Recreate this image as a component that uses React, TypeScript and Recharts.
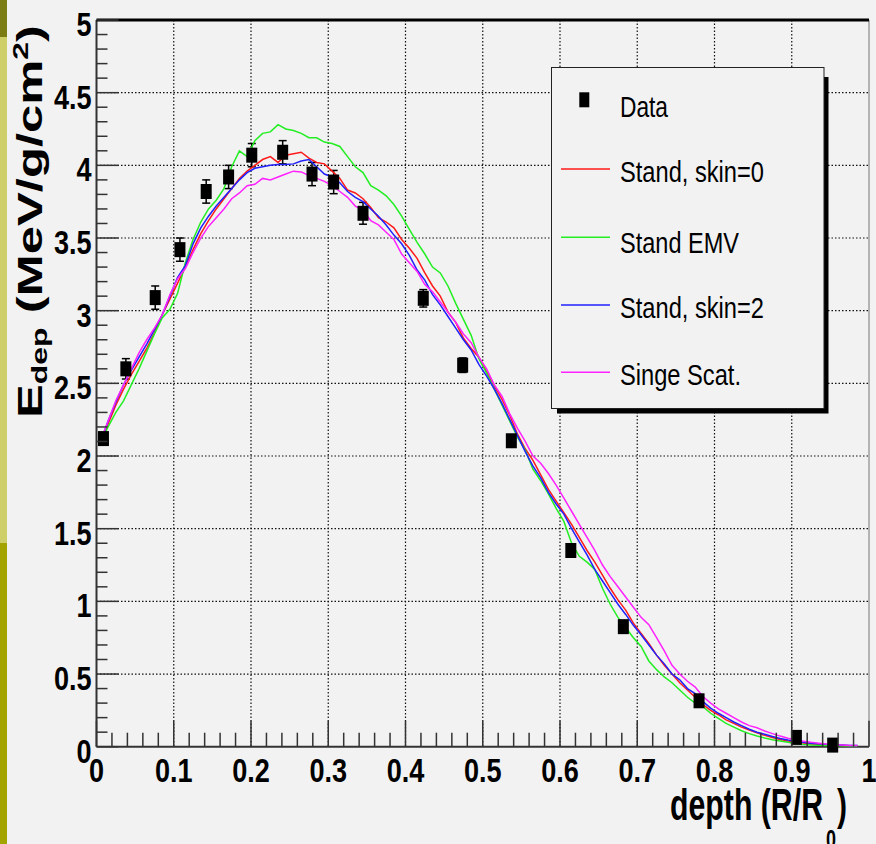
import React from 'react'
import {
  ComposedChart,
  Line,
  Scatter,
  ErrorBar,
  XAxis,
  YAxis,
  CartesianGrid,
  ReferenceLine,
  Legend,
} from 'recharts'

// bin centres of the simulated depth-dose curves
const DEPTH = [
  0.005, 0.015, 0.025, 0.035, 0.045, 0.055, 0.065, 0.075, 0.085, 0.095,
  0.105, 0.115, 0.125, 0.135, 0.145, 0.155, 0.165, 0.175, 0.185, 0.195,
  0.205, 0.215, 0.225, 0.235, 0.245, 0.255, 0.265, 0.275, 0.285, 0.295,
  0.305, 0.315, 0.325, 0.335, 0.345, 0.355, 0.365, 0.375, 0.385, 0.395,
  0.405, 0.415, 0.425, 0.435, 0.445, 0.455, 0.465, 0.475, 0.485, 0.495,
  0.505, 0.515, 0.525, 0.535, 0.545, 0.555, 0.565, 0.575, 0.585, 0.595,
  0.605, 0.615, 0.625, 0.635, 0.645, 0.655, 0.665, 0.675, 0.685, 0.695,
  0.705, 0.715, 0.725, 0.735, 0.745, 0.755, 0.765, 0.775, 0.785, 0.795,
  0.805, 0.815, 0.825, 0.835, 0.845, 0.855, 0.865, 0.875, 0.885, 0.895,
  0.905, 0.915, 0.925, 0.935, 0.945, 0.955, 0.965, 0.975, 0.985,
]

const STAND_SKIN0 = [
  2.09, 2.22, 2.35, 2.46, 2.56, 2.65, 2.74, 2.85, 2.97, 3.08,
  3.19, 3.3, 3.42, 3.53, 3.62, 3.7, 3.77, 3.84, 3.91, 3.96,
  4.0, 4.04, 4.06, 4.02, 4.07, 4.08, 4.09, 4.05, 4.02, 4.01,
  3.96, 3.91, 3.83, 3.81, 3.77, 3.71, 3.64, 3.61, 3.57, 3.49,
  3.43, 3.36, 3.26, 3.17, 3.1, 2.99, 2.92, 2.81, 2.74, 2.68,
  2.58, 2.48, 2.39, 2.28, 2.15, 2.05, 1.97, 1.87, 1.77, 1.69,
  1.61, 1.53, 1.44, 1.35, 1.27, 1.18, 1.09, 1.01, 0.94, 0.85,
  0.78, 0.71, 0.63, 0.56, 0.5, 0.44, 0.39, 0.34, 0.29, 0.25,
  0.22, 0.185, 0.16, 0.135, 0.115, 0.095, 0.078, 0.063, 0.05, 0.04,
  0.032, 0.025, 0.019, 0.016, 0.013, 0.011, 0.009, 0.007, 0.006,
]

const STAND_EMV = [
  2.09, 2.2, 2.3, 2.38, 2.49, 2.6, 2.72, 2.84, 2.95, 3.01,
  3.12, 3.33, 3.49, 3.61, 3.7, 3.76, 3.84, 3.99, 4.1, 4.06,
  4.17, 4.22, 4.23, 4.28, 4.25, 4.24, 4.22, 4.19, 4.19, 4.16,
  4.15, 4.13, 4.06, 3.99, 3.95, 3.86, 3.83, 3.79, 3.73, 3.65,
  3.56, 3.47, 3.39, 3.3, 3.26, 3.17, 3.05, 2.94, 2.83, 2.67,
  2.57, 2.46, 2.35, 2.24, 2.13, 2.04, 1.91, 1.83, 1.74, 1.64,
  1.55, 1.4, 1.31, 1.27, 1.22, 1.09, 0.98, 0.89, 0.82, 0.75,
  0.69, 0.59, 0.53, 0.48, 0.44, 0.39, 0.34, 0.3, 0.275, 0.23,
  0.195, 0.16, 0.135, 0.11, 0.09, 0.074, 0.06, 0.048, 0.039, 0.03,
  0.022, 0.016, 0.012, 0.01, 0.008, 0.007, 0.006, 0.005, 0.005,
]

const STAND_SKIN2 = [
  2.09, 2.24, 2.37, 2.49, 2.59, 2.68, 2.77, 2.87, 2.97, 3.1,
  3.23, 3.31, 3.46, 3.57, 3.65, 3.72, 3.78, 3.84, 3.9, 3.95,
  3.98, 3.99, 4.0, 4.005, 4.005, 4.01, 4.03, 4.04, 3.99, 3.94,
  3.92, 3.88, 3.82, 3.78, 3.75, 3.7, 3.65, 3.59, 3.52, 3.46,
  3.38, 3.28, 3.21, 3.11, 3.04, 2.96, 2.88, 2.8, 2.73, 2.63,
  2.55, 2.46, 2.36, 2.25, 2.14, 2.03, 1.93, 1.85, 1.75, 1.67,
  1.6, 1.5, 1.41, 1.32, 1.22, 1.14, 1.06, 0.98, 0.91, 0.835,
  0.77, 0.7, 0.63, 0.57, 0.5, 0.46, 0.4, 0.365, 0.31, 0.265,
  0.23, 0.2, 0.17, 0.145, 0.12, 0.1, 0.085, 0.07, 0.057, 0.046,
  0.037, 0.03, 0.024, 0.02, 0.016, 0.013, 0.011, 0.009, 0.008,
]

const SINGE_SCAT = [
  2.1, 2.24, 2.38, 2.49, 2.6, 2.71, 2.8, 2.88, 2.97, 3.11,
  3.22, 3.29, 3.4, 3.5, 3.58, 3.64, 3.7, 3.77, 3.81, 3.86,
  3.87, 3.91, 3.9, 3.92, 3.94, 3.96, 3.955, 3.93, 3.91, 3.89,
  3.86, 3.82, 3.78, 3.72, 3.69, 3.62, 3.59, 3.54, 3.49, 3.39,
  3.33, 3.27, 3.18, 3.13, 3.06, 2.99, 2.92, 2.84, 2.78, 2.68,
  2.6, 2.49, 2.41, 2.29, 2.19, 2.1, 2.0, 1.95, 1.88, 1.8,
  1.71, 1.62, 1.53, 1.44, 1.35, 1.25, 1.17, 1.1, 1.03, 0.96,
  0.89, 0.84, 0.75, 0.66, 0.56, 0.5, 0.45, 0.41, 0.345, 0.3,
  0.26, 0.23, 0.2, 0.17, 0.145, 0.13, 0.108, 0.09, 0.073, 0.058,
  0.047, 0.038, 0.03, 0.024, 0.018, 0.014, 0.011, 0.009, 0.008,
]

// measured points
const DATA_DEPTH = [
  0.009, 0.038, 0.076, 0.108, 0.142, 0.171, 0.201, 0.241, 0.279, 0.307,
  0.345, 0.423, 0.474, 0.537, 0.614, 0.682, 0.78, 0.906, 0.953,
]
const DATA_EDEP = [
  2.12, 2.6, 3.09, 3.42, 3.82, 3.92, 4.07, 4.09, 3.94, 3.885,
  3.67, 3.085, 2.625, 2.105, 1.35, 0.826, 0.316, 0.064, 0.011,
]
const DATA_ERR = [
  0.04, 0.07, 0.08, 0.08, 0.08, 0.08, 0.08, 0.08, 0.08, 0.08,
  0.075, 0.06, 0.05, 0.04, 0.03, 0.02, 0.01, 0.005, 0.002,
]

const X_LABELS = ['0', '0.1', '0.2', '0.3', '0.4', '0.5', '0.6', '0.7', '0.8', '0.9', '1']
const Y_LABELS = ['0', '0.5', '1', '1.5', '2', '2.5', '3', '3.5', '4', '4.5', '5']
const X_GRID = [0.1, 0.2, 0.3, 0.4, 0.5, 0.6, 0.7, 0.8, 0.9]
const Y_GRID = [0.5, 1, 1.5, 2, 2.5, 3, 3.5, 4, 4.5]

const SERIES = [
  { name: 'Stand, skin=0', color: '#ff1a1a', values: STAND_SKIN0 },
  { name: 'Stand EMV', color: '#22ee22', values: STAND_EMV },
  { name: 'Stand, skin=2', color: '#2020ff', values: STAND_SKIN2 },
  { name: 'Singe Scat.', color: '#ff22ff', values: SINGE_SCAT },
]

// minor ticks: 5 divisions per labelled step
const X_TICKS = Array.from({ length: 51 }, (_, i) => i / 50)
const Y_TICKS = Array.from({ length: 51 }, (_, i) => i / 10)

const NARROW = '"Liberation Sans Narrow", "Arial Narrow", "Liberation Sans", Arial, sans-serif'
const WIDE = '"Liberation Sans", Arial, sans-serif'

// advance width of a numeric label in a condensed bold face
const numWidth = (s: string, size: number) =>
  s.split('').reduce((w, c) => w + (c === '.' ? 0.228 : 0.456) * size, 0)

const curve = (values: number[]) => DEPTH.map((x, i) => ({ x, y: values[i] }))
const points = DATA_DEPTH.map((x, i) => ({ x, y: DATA_EDEP[i], err: DATA_ERR[i] }))

function XTick(props: any) {
  const { x, y, payload } = props
  const k = Math.round(payload.value * 10)
  const major = Math.abs(payload.value * 10 - k) < 1e-6
  return (
    <g>
      <line x1={x} x2={x} y1={y} y2={y - (major ? 26 : 14)} stroke="#333" strokeWidth={1.5} />
      {major && (
        <text
          x={x}
          y={y + 35}
          textAnchor="middle"
          fontFamily={NARROW}
          fontWeight="bold"
          fontSize={33}
          textLength={numWidth(X_LABELS[k], 33)}
          lengthAdjust="spacingAndGlyphs"
          fill="#000"
        >
          {X_LABELS[k]}
        </text>
      )}
    </g>
  )
}

function YTick(props: any) {
  const { x, y, payload } = props
  const k = Math.round(payload.value * 2)
  const major = Math.abs(payload.value * 2 - k) < 1e-6
  return (
    <g>
      <line x1={x} x2={x + (major ? 22 : 11)} y1={y} y2={y} stroke="#333" strokeWidth={1.5} />
      {major && (
        <text
          x={x - 5}
          y={y + 16}
          textAnchor="end"
          fontFamily={NARROW}
          fontWeight="bold"
          fontSize={33}
          textLength={numWidth(Y_LABELS[k], 33)}
          lengthAdjust="spacingAndGlyphs"
          fill="#000"
        >
          {Y_LABELS[k]}
        </text>
      )}
    </g>
  )
}

function XTitle() {
  return (
    <g fontFamily={WIDE} fontWeight="bold" fill="#000">
      <text x={670} y={820} fontSize={44} textLength={153} lengthAdjust="spacingAndGlyphs">
        depth (R/R
      </text>
      <text x={826} y={848} fontSize={26} textLength={10} lengthAdjust="spacingAndGlyphs">
        0
      </text>
      <text x={837} y={820} fontSize={44} textLength={10} lengthAdjust="spacingAndGlyphs">
        )
      </text>
    </g>
  )
}

function YTitle() {
  return (
    <text
      transform="translate(41.5, 418) rotate(-90) scale(1.45, 1)"
      fontFamily={WIDE}
      fontWeight="bold"
      fontSize={35}
      fill="#000"
    >
      E
      <tspan fontSize={22} dy={5}>dep</tspan>
      <tspan dy={-5}> (MeV/g/cm</tspan>
      <tspan fontSize={22} dy={-14}>2</tspan>
      <tspan dy={14}>)</tspan>
    </text>
  )
}

function Square(props: any) {
  const { cx, cy } = props
  return <rect x={cx - 5.5} y={cy - 7.5} width={11} height={15} fill="#000" />
}

const LEGEND_ROWS = [
  { y: 169, base: 181.7, len: 144 },
  { y: 237.3, base: 252.7, len: 119 },
  { y: 305, base: 318.3, len: 144 },
  { y: 372.3, base: 385, len: 121 },
]

function LegendBox() {
  return (
    <svg width={300} height={360} style={{ display: 'block' }}>
      <g transform="translate(-540,-60)">
        <rect x={557} y={77} width={271.5} height={336.5} fill="#000" />
        <rect x={551.5} y={67.5} width={272.5} height={341} fill="#f2f2f2" stroke="#222" strokeWidth={1} />
        <rect x={579.3} y={92.3} width={10} height={15} fill="#000" />
        <text x={620} y={116.7} fontFamily={NARROW} fontSize={30} textLength={48} lengthAdjust="spacingAndGlyphs" fill="#000">
          Data
        </text>
        {SERIES.map((s, i) => (
          <g key={s.name}>
            <line x1={561} x2={610} y1={LEGEND_ROWS[i].y} y2={LEGEND_ROWS[i].y} stroke={s.color} strokeWidth={1.5} />
            <text
              x={620}
              y={LEGEND_ROWS[i].base}
              fontFamily={NARROW}
              fontSize={30}
              textLength={LEGEND_ROWS[i].len}
              lengthAdjust="spacingAndGlyphs"
              fill="#000"
            >
              {s.name}
            </text>
          </g>
        ))}
      </g>
    </svg>
  )
}

export default function App() {
  return (
    <div
      style={{
        position: 'absolute',
        left: 0,
        top: 0,
        width: 876,
        height: 844,
        background: '#f2f2f2',
        overflow: 'hidden',
      }}
    >
      <div style={{ position: 'absolute', left: 0, top: 0, width: 7, height: 37, background: '#7c7c14' }} />
      <div style={{ position: 'absolute', left: 0, top: 37, width: 7, height: 506, background: '#cfcf6a' }} />
      <div style={{ position: 'absolute', left: 0, top: 543, width: 7, height: 301, background: '#a4a400' }} />
      <ComposedChart
        width={876}
        height={844}
        margin={{ top: 20, right: 7, bottom: 96.3, left: 95.5 }}
        style={{ position: 'absolute', left: 0, top: 0 }}
      >
        <XAxis
          type="number"
          dataKey="x"
          domain={[0, 1]}
          ticks={X_TICKS}
          interval={0}
          height={1}
          tickSize={0}
          tickMargin={0}
          axisLine={false}
          tickLine={false}
          tick={<XTick />}
          label={<XTitle />}
        />
        <YAxis
          type="number"
          domain={[0, 5]}
          ticks={Y_TICKS}
          interval={0}
          width={1}
          tickSize={0}
          tickMargin={0}
          axisLine={false}
          tickLine={false}
          tick={<YTick />}
          label={<YTitle />}
        />
        <CartesianGrid
          horizontalValues={Y_GRID}
          verticalValues={X_GRID}
          stroke="#111"
          strokeWidth={1.2}
          strokeDasharray="1.5 2"
        />
        <ReferenceLine y={0} stroke="#333" strokeWidth={2} />
        <ReferenceLine x={0} stroke="#333" strokeWidth={2} />
        <ReferenceLine x={1} stroke="#777" strokeWidth={1} />
        <ReferenceLine y={5} stroke="#000" strokeWidth={3} />
        <Scatter data={points} dataKey="y" shape={<Square />} isAnimationActive={false} legendType="none">
          <ErrorBar dataKey="err" direction="y" width={4} stroke="#000" strokeWidth={1.5} isAnimationActive={false} />
        </Scatter>
        {SERIES.map((s) => (
          <Line
            key={s.name}
            data={curve(s.values)}
            dataKey="y"
            type="linear"
            stroke={s.color}
            strokeWidth={1.5}
            dot={false}
            activeDot={false}
            legendType="none"
            isAnimationActive={false}
          />
        ))}
        <Legend
          layout="vertical"
          align="center"
          verticalAlign="middle"
          wrapperStyle={{ left: 540, top: 60, width: 300, height: 360 }}
          content={() => <LegendBox />}
        />
      </ComposedChart>
    </div>
  )
}
